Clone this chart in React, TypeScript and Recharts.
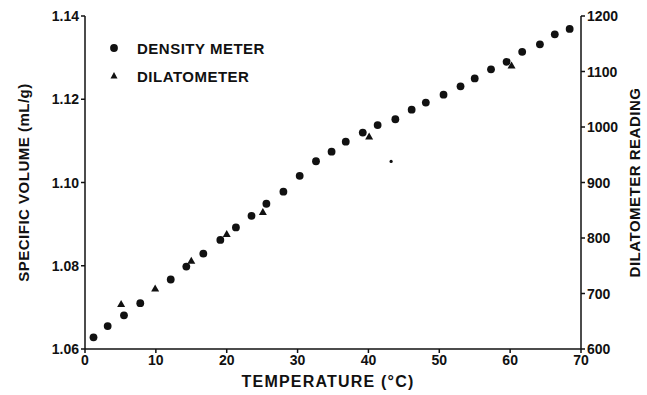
import { ScatterChart, Scatter, XAxis, YAxis, Legend } from 'recharts'

// density meter: temperature (°C) vs specific volume (mL/g)
const densityTemp = [
  1.2, 3.2, 5.5, 7.8, 12.1, 14.3, 16.7, 19.1, 21.3, 23.5, 25.6, 28.0, 30.3, 32.6, 34.8,
  36.8, 39.2, 41.3, 43.8, 46.1, 48.1, 50.6, 53.0, 55.0, 57.3, 59.5, 61.7, 64.2, 66.3, 68.4,
]
const densityVolume = [
  1.0628, 1.0655, 1.0681, 1.071, 1.0767, 1.0798, 1.0829, 1.0862, 1.0892, 1.092, 1.0949,
  1.0978, 1.1016, 1.1051, 1.1074, 1.1098, 1.112, 1.1138, 1.1152, 1.1175, 1.1192, 1.1211,
  1.1231, 1.125, 1.1272, 1.129, 1.1314, 1.1332, 1.1356, 1.1369,
]

// dilatometer: temperature vs reading
const dilatometerTemp = [5.1, 9.9, 15.0, 20.0, 25.1, 40.1, 60.2]
const dilatometerReading = [681, 709, 759, 807, 847, 983, 1111]

// lone small dot below the curve
const strayTemp = [43.2]
const strayReading = [938]

const xTicks = [0, 10, 20, 30, 40, 50, 60, 70]
const leftTicks = [1.06, 1.08, 1.1, 1.12, 1.14]
const rightTicks = [600, 700, 800, 900, 1000, 1100, 1200]

const density = densityTemp.map((t, i) => ({ t, v: densityVolume[i] }))
const dilatometer = dilatometerTemp.map((t, i) => ({ t, r: dilatometerReading[i] }))
const stray = strayTemp.map((t, i) => ({ t, r: strayReading[i] }))

const FONT = '"Liberation Sans", Arial, sans-serif'
const INK = '#111'
const tickLineStyle = { stroke: INK, strokeWidth: 1.5 }

const Dot = (p: any) => <circle cx={p.cx} cy={p.cy} r={3.9} fill={INK} />
const Tri = (p: any) => (
  <path d={`M${p.cx},${p.cy - 4}L${p.cx + 4},${p.cy + 3}L${p.cx - 4},${p.cy + 3}Z`} fill={INK} />
)
const Speck = (p: any) => <circle cx={p.cx} cy={p.cy} r={1.6} fill={INK} />

const tickText = { fontFamily: FONT, fontWeight: 'bold', fontSize: 14, fill: INK }

const LeftTick = ({ x, y, payload }: any) => (
  <text x={x} y={y} dy={5} textAnchor="end" {...tickText}>
    {payload.value.toFixed(2)}
  </text>
)

const RightTick = ({ x, y, payload }: any) => (
  <text x={x} y={y} dy={5} textAnchor="start" {...tickText}>
    {payload.value}
  </text>
)

const BottomTick = ({ x, y, payload }: any) => (
  <text x={x} y={y} dy={11} textAnchor="middle" {...tickText}>
    {payload.value}
  </text>
)

const titleStyle = { fontFamily: FONT, fontWeight: 'bold', fontSize: 15, fill: INK, letterSpacing: 0.5 }

const legendRows = [
  { name: 'DENSITY METER', icon: <circle cx={14} cy={7} r={3.9} fill={INK} /> },
  { name: 'DILATOMETER', icon: <path d="M14,3L17.5,9.5L10.5,9.5Z" fill={INK} /> },
]

const LegendBox = () => (
  <div style={{ fontFamily: FONT, fontWeight: 'bold', fontSize: 15, color: INK, letterSpacing: 0.5 }}>
    {legendRows.map((row) => (
      <div key={row.name} style={{ display: 'flex', alignItems: 'center', height: 28 }}>
        <svg width={24} height={14} style={{ marginRight: 13 }}>
          {row.icon}
        </svg>
        {row.name}
      </div>
    ))}
  </div>
)

export default function App() {
  return (
    <>
      <style>{'body{margin:0;background:#fff}'}</style>
      <ScatterChart width={647} height={395} margin={{ top: 16, right: 0, bottom: 0, left: 0 }}>
        <XAxis
          type="number"
          dataKey="t"
          domain={[0, 70]}
          ticks={xTicks}
          height={46}
          tickSize={4}
          tickMargin={1}
          tickLine={tickLineStyle}
          axisLine={{ stroke: INK, strokeWidth: 1.5 }}
          tick={<BottomTick />}
          label={{
            content: ({ viewBox }: any) => (
              <text
                x={viewBox.x + viewBox.width / 2 - 5}
                y={viewBox.y + 38}
                textAnchor="middle"
                {...titleStyle}
                fontSize={16}
                letterSpacing={1.2}
              >
                TEMPERATURE (°C)
              </text>
            ),
          }}
        />
        <YAxis
          yAxisId="left"
          type="number"
          dataKey="v"
          domain={[1.06, 1.14]}
          ticks={leftTicks}
          width={85}
          tickSize={4}
          tickMargin={2}
          tickLine={tickLineStyle}
          axisLine={{ stroke: INK, strokeWidth: 1.5 }}
          tick={<LeftTick />}
          label={{
            content: ({ viewBox }: any) => {
              const x = viewBox.x + 25
              const y = viewBox.y + viewBox.height / 2
              return (
                <text x={x} y={y} transform={`rotate(-90 ${x} ${y})`} textAnchor="middle" dominantBaseline="middle" {...titleStyle}>
                  SPECIFIC VOLUME (mL/g)
                </text>
              )
            },
          }}
        />
        <YAxis
          yAxisId="right"
          orientation="right"
          type="number"
          dataKey="r"
          domain={[600, 1200]}
          ticks={rightTicks}
          width={66}
          tickSize={4}
          tickMargin={2}
          tickLine={tickLineStyle}
          axisLine={{ stroke: INK, strokeWidth: 1.5 }}
          tick={<RightTick />}
          label={{
            content: ({ viewBox }: any) => {
              const x = viewBox.x + 55
              const y = viewBox.y + viewBox.height / 2
              return (
                <text x={x} y={y} transform={`rotate(-90 ${x} ${y})`} textAnchor="middle" dominantBaseline="middle" {...titleStyle}>
                  DILATOMETER READING
                </text>
              )
            },
          }}
        />
        <Legend
          layout="vertical"
          align="center"
          verticalAlign="middle"
          wrapperStyle={{ left: 100, top: 34, width: 'auto' }}
          content={<LegendBox />}
        />
        <Scatter name="DENSITY METER" data={density} yAxisId="left" shape={Dot} isAnimationActive={false} />
        <Scatter name="DILATOMETER" data={dilatometer} yAxisId="right" shape={Tri} isAnimationActive={false} />
        <Scatter name="stray" data={stray} yAxisId="right" shape={Speck} legendType="none" isAnimationActive={false} />
      </ScatterChart>
    </>
  )
}
